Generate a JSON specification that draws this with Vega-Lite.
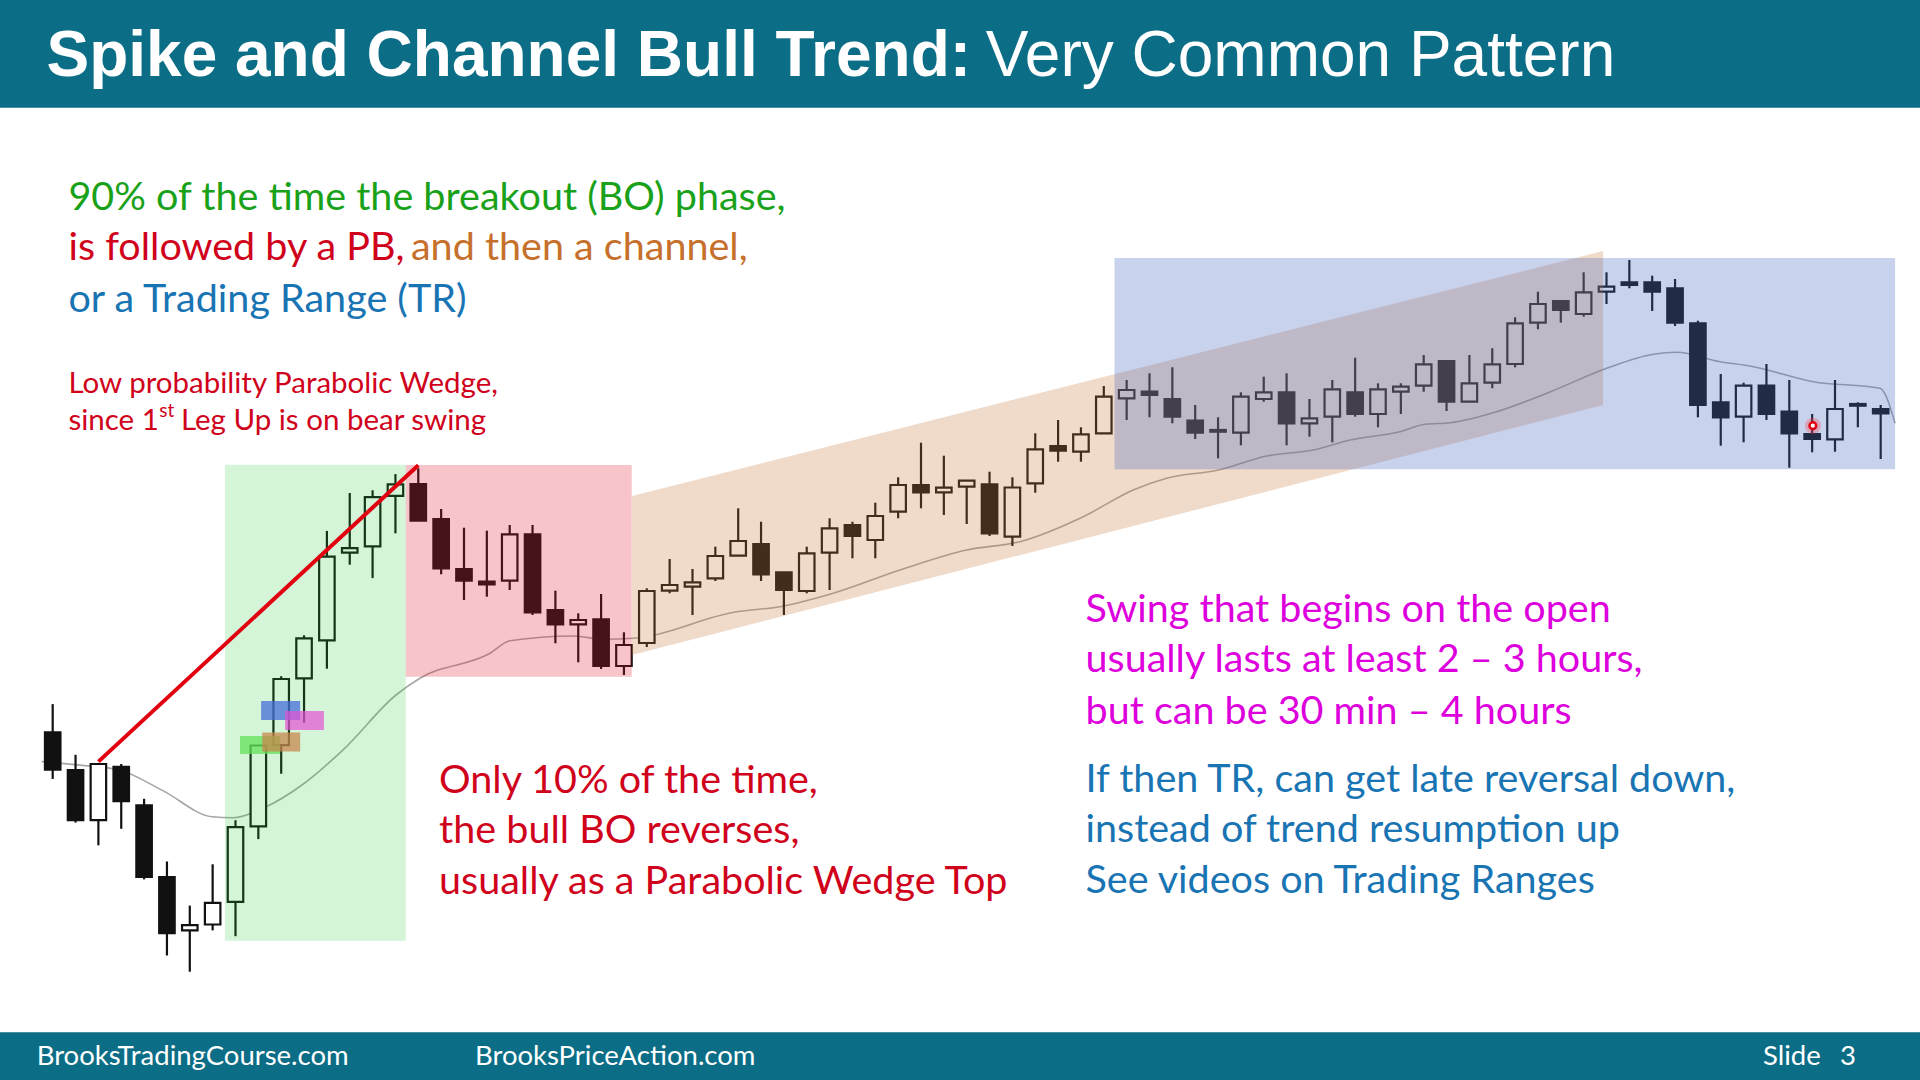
{
  "$schema": "https://vega.github.io/schema/vega-lite/v6.json",
  "width": 1920,
  "height": 1080,
  "autosize": {"type": "none"},
  "padding": 0,
  "background": "white",
  "config": {"view": {"stroke": null}, "scale": {"continuousPadding": 0}},
  "datasets": {
    "candles": [
      {"bar":0,"open":26.76,"high":29.59,"low":22.11,"close":23.04},
      {"bar":1,"open":22.98,"high":24.52,"low":17.74,"close":17.98},
      {"bar":2,"open":17.98,"high":23.7,"low":15.47,"close":23.6},
      {"bar":3,"open":23.32,"high":23.6,"low":17.12,"close":19.88},
      {"bar":4,"open":19.46,"high":20.12,"low":12.06,"close":12.3},
      {"bar":5,"open":12.3,"high":13.85,"low":4.45,"close":6.69},
      {"bar":6,"open":6.96,"high":9.44,"low":2.83,"close":7.48},
      {"bar":7,"open":7.55,"high":13.57,"low":6.96,"close":9.72},
      {"bar":8,"open":9.82,"high":17.98,"low":6.38,"close":17.29},
      {"bar":9,"open":17.36,"high":25.5,"low":16.09,"close":25.45},
      {"bar":10,"open":25.49,"high":32.38,"low":22.63,"close":32.1},
      {"bar":11,"open":32.17,"high":36.47,"low":27.73,"close":36.16},
      {"bar":12,"open":35.96,"high":46.91,"low":33.13,"close":44.33},
      {"bar":13,"open":44.74,"high":50.7,"low":43.53,"close":45.19},
      {"bar":14,"open":45.36,"high":50.97,"low":42.19,"close":50.28},
      {"bar":15,"open":50.42,"high":52.59,"low":46.67,"close":51.56},
      {"bar":16,"open":51.6,"high":53.17,"low":47.93,"close":47.93},
      {"bar":17,"open":48.1,"high":49.1,"low":42.57,"close":43.17},
      {"bar":18,"open":43.1,"high":47.23,"low":40.0,"close":41.93},
      {"bar":19,"open":41.83,"high":46.93,"low":40.33,"close":41.57},
      {"bar":20,"open":41.93,"high":47.5,"low":41.0,"close":46.57},
      {"bar":21,"open":46.57,"high":47.5,"low":38.5,"close":38.77},
      {"bar":22,"open":39.0,"high":40.93,"low":35.67,"close":37.57},
      {"bar":23,"open":37.57,"high":38.67,"low":33.77,"close":38.0},
      {"bar":24,"open":38.07,"high":40.6,"low":33.1,"close":33.4},
      {"bar":25,"open":33.4,"high":36.77,"low":32.5,"close":35.5},
      {"bar":26,"open":35.7,"high":41.17,"low":35.3,"close":40.9},
      {"bar":27,"open":40.93,"high":44.1,"low":40.67,"close":41.5},
      {"bar":28,"open":41.33,"high":43.1,"low":38.5,"close":41.77},
      {"bar":29,"open":42.17,"high":45.33,"low":41.9,"close":44.4},
      {"bar":30,"open":44.43,"high":49.17,"low":44.43,"close":45.9},
      {"bar":31,"open":45.6,"high":47.83,"low":41.9,"close":42.57},
      {"bar":32,"open":42.77,"high":42.77,"low":38.5,"close":41.0},
      {"bar":33,"open":40.9,"high":45.33,"low":40.67,"close":44.67},
      {"bar":34,"open":44.73,"high":48.17,"low":41.0,"close":47.17},
      {"bar":35,"open":47.5,"high":47.83,"low":44.17,"close":46.4},
      {"bar":36,"open":46.0,"high":49.73,"low":44.17,"close":48.4},
      {"bar":37,"open":48.83,"high":52.27,"low":48.17,"close":51.5},
      {"bar":38,"open":51.5,"high":55.73,"low":49.17,"close":50.77},
      {"bar":39,"open":50.77,"high":54.43,"low":48.5,"close":51.23},
      {"bar":40,"open":51.33,"high":51.93,"low":47.6,"close":51.93},
      {"bar":41,"open":51.57,"high":52.83,"low":46.4,"close":46.67},
      {"bar":42,"open":46.33,"high":52.27,"low":45.4,"close":51.25},
      {"bar":43,"open":51.67,"high":56.67,"low":50.73,"close":55.07},
      {"bar":44,"open":55.4,"high":58.0,"low":53.83,"close":54.93},
      {"bar":45,"open":54.83,"high":57.27,"low":53.83,"close":56.57},
      {"bar":46,"open":56.67,"high":61.4,"low":56.67,"close":60.33},
      {"bar":47,"open":60.17,"high":62.0,"low":58.0,"close":61.0},
      {"bar":48,"open":60.83,"high":62.67,"low":58.27,"close":60.5},
      {"bar":49,"open":60.1,"high":63.27,"low":57.67,"close":58.33},
      {"bar":50,"open":57.93,"high":59.5,"low":56.1,"close":56.73},
      {"bar":51,"open":57.0,"high":58.27,"low":54.17,"close":56.83},
      {"bar":52,"open":56.73,"high":60.77,"low":55.47,"close":60.33},
      {"bar":53,"open":60.1,"high":62.33,"low":59.83,"close":60.77},
      {"bar":54,"open":60.77,"high":62.67,"low":55.47,"close":57.67},
      {"bar":55,"open":57.67,"high":60.1,"low":56.33,"close":58.17},
      {"bar":56,"open":58.33,"high":62.0,"low":55.77,"close":61.07},
      {"bar":57,"open":60.77,"high":64.23,"low":58.33,"close":58.6},
      {"bar":58,"open":58.6,"high":61.67,"low":57.27,"close":61.07},
      {"bar":59,"open":60.83,"high":61.67,"low":58.6,"close":61.33},
      {"bar":60,"open":61.43,"high":64.5,"low":60.83,"close":63.57},
      {"bar":61,"open":63.9,"high":63.9,"low":58.9,"close":59.83},
      {"bar":62,"open":59.83,"high":64.5,"low":59.83,"close":61.67},
      {"bar":63,"open":61.73,"high":65.17,"low":61.17,"close":63.57},
      {"bar":64,"open":63.6,"high":68.27,"low":63.27,"close":67.67},
      {"bar":65,"open":67.73,"high":70.83,"low":67.07,"close":69.6},
      {"bar":66,"open":69.9,"high":69.9,"low":67.73,"close":69.0},
      {"bar":67,"open":68.6,"high":72.77,"low":68.33,"close":70.77},
      {"bar":68,"open":70.83,"high":72.77,"low":69.6,"close":71.33},
      {"bar":69,"open":71.77,"high":74.0,"low":71.17,"close":71.5},
      {"bar":70,"open":71.77,"high":72.43,"low":68.9,"close":70.83},
      {"bar":71,"open":71.17,"high":72.1,"low":67.4,"close":67.73},
      {"bar":72,"open":67.67,"high":67.93,"low":58.27,"close":59.5},
      {"bar":73,"open":59.77,"high":62.6,"low":55.43,"close":58.27},
      {"bar":74,"open":58.33,"high":61.73,"low":55.77,"close":61.43},
      {"bar":75,"open":61.43,"high":63.6,"low":58.0,"close":58.6},
      {"bar":76,"open":58.83,"high":62.0,"low":53.23,"close":56.67},
      {"bar":77,"open":56.6,"high":58.6,"low":54.77,"close":56.1},
      {"bar":78,"open":56.07,"high":62.0,"low":54.83,"close":59.1},
      {"bar":79,"open":59.6,"high":59.77,"low":57.27,"close":59.43},
      {"bar":80,"open":59.1,"high":59.5,"low":54.1,"close":58.67}
    ],
    "ema": [
      {"bar":-0.48,"ema":23.84},{"bar":1.19,"ema":23.49},{"bar":2.95,"ema":22.98},
      {"bar":4.84,"ema":20.91},{"bar":6.96,"ema":18.33},{"bar":7.9,"ema":18.22},
      {"bar":9.22,"ema":19.19},{"bar":10.97,"ema":21.6},{"bar":12.72,"ema":25.04},
      {"bar":15.05,"ema":30.55},{"bar":16.07,"ema":32.17},{"bar":19.14,"ema":34.67},
      {"bar":20.01,"ema":35.93},{"bar":22.78,"ema":36.4},{"bar":24.1,"ema":36.07},
      {"bar":25.41,"ema":36.17},{"bar":29.93,"ema":38.83},{"bar":31.83,"ema":39.33},
      {"bar":34.16,"ema":40.67},{"bar":37.08,"ema":43.0},{"bar":40.0,"ema":45.0},
      {"bar":42.33,"ema":45.83},{"bar":45.1,"ema":48.33},{"bar":47.29,"ema":51.0},
      {"bar":48.75,"ema":52.17},{"bar":51.01,"ema":53.0},{"bar":53.13,"ema":54.4},
      {"bar":55.17,"ema":55.0},{"bar":56.78,"ema":56.0},{"bar":58.96,"ema":56.83},
      {"bar":60.06,"ema":57.57},{"bar":61.16,"ema":57.73},{"bar":63.19,"ema":58.83},
      {"bar":65.55,"ema":60.83},{"bar":68.01,"ema":63.17},{"bar":70.05,"ema":64.57},
      {"bar":71.07,"ema":64.77},{"bar":72.97,"ema":63.83},{"bar":74.28,"ema":63.4},
      {"bar":77.05,"ema":61.83},{"bar":79.97,"ema":61.17},{"bar":80.63,"ema":57.67}
    ]
  },
  "layer": [
    {
      "data": {"values": [{"x0":-2.306,"x1":81.72,"y0":89.22,"y1":100}]},
      "mark": {"type": "rect", "fill": "#0b6d86"},
      "encoding": {
        "x": {"field":"x0","type":"quantitative","scale":{"domain":[-2.306,81.72],"nice":false,"zero":false,"padding":0},"axis":null},
        "x2": {"field":"x1"},
        "y": {"field":"y0","type":"quantitative","scale":{"domain":[-8,100],"nice":false,"zero":false},"axis":null},
        "y2": {"field":"y1"}
      }
    },
    {
      "data": {"values": [{"x0":-2.306,"x1":81.72,"y0":-8,"y1":-3.23}]},
      "mark": {"type": "rect", "fill": "#0b6d86"},
      "encoding": {
        "x": {"field":"x0","type":"quantitative","scale":{"domain":[-2.306,81.72],"nice":false,"zero":false,"padding":0},"axis":null},
        "x2": {"field":"x1"},
        "y": {"field":"y0","type":"quantitative","scale":{"domain":[-8,100],"nice":false,"zero":false},"axis":null},
        "y2": {"field":"y1"}
      }
    },
    {
      "data": {"name": "ema"},
      "mark": {"type": "line", "color": "#a6a6a6", "strokeWidth": 1.6, "interpolate": "monotone"},
      "encoding": {
        "x": {"field":"bar","type":"quantitative","scale":{"domain":[-2.306,81.72],"nice":false,"zero":false,"padding":0},"axis":null},
        "y": {"field":"ema","type":"quantitative","scale":{"domain":[-8,100],"nice":false,"zero":false},"axis":null}
      }
    },
    {
      "data": {"name": "candles"},
      "mark": {"type": "rule", "color": "#111111", "strokeWidth": 2.2},
      "encoding": {
        "x": {"field":"bar","type":"quantitative","scale":{"domain":[-2.306,81.72],"nice":false,"zero":false,"padding":0},"axis":null},
        "y": {"field":"low","type":"quantitative","scale":{"domain":[-8,100],"nice":false,"zero":false},"axis":null},
        "y2": {"field":"high"}
      }
    },
    {
      "data": {"name": "candles"},
      "mark": {"type": "bar", "width": 15.5, "stroke": "#111111", "strokeWidth": 2.2},
      "encoding": {
        "x": {"field":"bar","type":"quantitative","scale":{"domain":[-2.306,81.72],"nice":false,"zero":false,"padding":0},"axis":null},
        "y": {"field":"open","type":"quantitative","scale":{"domain":[-8,100],"nice":false,"zero":false},"axis":null},
        "y2": {"field":"close"},
        "fill": {"condition": {"test": "datum.close > datum.open", "value": "#ffffff"}, "value": "#111111"}
      }
    },
    {
      "data": {"values": [{"x0":7.54,"x1":15.45,"y0":5.93,"y1":53.52}]},
      "mark": {"type": "rect", "fill": "#2ecc40", "opacity": 0.2},
      "encoding": {
        "x": {"field":"x0","type":"quantitative","scale":{"domain":[-2.306,81.72],"nice":false,"zero":false,"padding":0},"axis":null},
        "x2": {"field":"x1"},
        "y": {"field":"y0","type":"quantitative","scale":{"domain":[-8,100],"nice":false,"zero":false},"axis":null},
        "y2": {"field":"y1"}
      }
    },
    {
      "data": {"values": [{"x0":15.45,"x1":25.34,"y0":32.33,"y1":53.5}]},
      "mark": {"type": "rect", "fill": "#e02030", "opacity": 0.26},
      "encoding": {
        "x": {"field":"x0","type":"quantitative","scale":{"domain":[-2.306,81.72],"nice":false,"zero":false,"padding":0},"axis":null},
        "x2": {"field":"x1"},
        "y": {"field":"y0","type":"quantitative","scale":{"domain":[-8,100],"nice":false,"zero":false},"axis":null},
        "y2": {"field":"y1"}
      }
    },
    {
      "data": {"values": [{"bar":25.35,"top":50.4,"bottom":34.5},{"bar":67.85,"top":74.9,"bottom":59.5}]},
      "mark": {"type": "area", "fill": "#c8783c", "opacity": 0.27},
      "encoding": {
        "x": {"field":"bar","type":"quantitative","scale":{"domain":[-2.306,81.72],"nice":false,"zero":false,"padding":0},"axis":null},
        "y": {"field":"top","type":"quantitative","scale":{"domain":[-8,100],"nice":false,"zero":false},"axis":null},
        "y2": {"field":"bottom"}
      }
    },
    {
      "data": {"values": [{"x0":46.47,"x1":80.63,"y0":53.07,"y1":74.2}]},
      "mark": {"type": "rect", "fill": "#4b6bc0", "opacity": 0.3},
      "encoding": {
        "x": {"field":"x0","type":"quantitative","scale":{"domain":[-2.306,81.72],"nice":false,"zero":false,"padding":0},"axis":null},
        "x2": {"field":"x1"},
        "y": {"field":"y0","type":"quantitative","scale":{"domain":[-8,100],"nice":false,"zero":false},"axis":null},
        "y2": {"field":"y1"}
      }
    },
    {
      "data": {"values": [{"x0":8.2,"x1":9.95,"y0":24.6,"y1":26.4}]},
      "mark": {"type": "rect", "fill": "#61e157", "opacity": 0.75},
      "encoding": {
        "x": {"field":"x0","type":"quantitative","scale":{"domain":[-2.306,81.72],"nice":false,"zero":false,"padding":0},"axis":null},
        "x2": {"field":"x1"},
        "y": {"field":"y0","type":"quantitative","scale":{"domain":[-8,100],"nice":false,"zero":false},"axis":null},
        "y2": {"field":"y1"}
      }
    },
    {
      "data": {"values": [{"x0":9.17,"x1":10.83,"y0":24.85,"y1":26.75}]},
      "mark": {"type": "rect", "fill": "#c5874c", "opacity": 0.75},
      "encoding": {
        "x": {"field":"x0","type":"quantitative","scale":{"domain":[-2.306,81.72],"nice":false,"zero":false,"padding":0},"axis":null},
        "x2": {"field":"x1"},
        "y": {"field":"y0","type":"quantitative","scale":{"domain":[-8,100],"nice":false,"zero":false},"axis":null},
        "y2": {"field":"y1"}
      }
    },
    {
      "data": {"values": [{"x0":9.12,"x1":10.83,"y0":28.0,"y1":29.9}]},
      "mark": {"type": "rect", "fill": "#476dd9", "opacity": 0.75},
      "encoding": {
        "x": {"field":"x0","type":"quantitative","scale":{"domain":[-2.306,81.72],"nice":false,"zero":false,"padding":0},"axis":null},
        "x2": {"field":"x1"},
        "y": {"field":"y0","type":"quantitative","scale":{"domain":[-8,100],"nice":false,"zero":false},"axis":null},
        "y2": {"field":"y1"}
      }
    },
    {
      "data": {"values": [{"x0":10.17,"x1":11.87,"y0":27.0,"y1":28.9}]},
      "mark": {"type": "rect", "fill": "#e451d4", "opacity": 0.7},
      "encoding": {
        "x": {"field":"x0","type":"quantitative","scale":{"domain":[-2.306,81.72],"nice":false,"zero":false,"padding":0},"axis":null},
        "x2": {"field":"x1"},
        "y": {"field":"y0","type":"quantitative","scale":{"domain":[-8,100],"nice":false,"zero":false},"axis":null},
        "y2": {"field":"y1"}
      }
    },
    {
      "data": {"values": [{"bar":2.0,"price":23.84},{"bar":16.0,"price":53.47}]},
      "mark": {"type": "line", "color": "#e00010", "strokeWidth": 4},
      "encoding": {
        "x": {"field":"bar","type":"quantitative","scale":{"domain":[-2.306,81.72],"nice":false,"zero":false,"padding":0},"axis":null},
        "y": {"field":"price","type":"quantitative","scale":{"domain":[-8,100],"nice":false,"zero":false},"axis":null}
      }
    },
    {
      "data": {"values": [{"bar":77.03,"price":57.43}]},
      "mark": {"type": "point", "shape": "circle", "filled": true, "color": "#ff4050", "opacity": 0.3, "size": 260},
      "encoding": {
        "x": {"field":"bar","type":"quantitative","scale":{"domain":[-2.306,81.72],"nice":false,"zero":false,"padding":0},"axis":null},
        "y": {"field":"price","type":"quantitative","scale":{"domain":[-8,100],"nice":false,"zero":false},"axis":null}
      }
    },
    {
      "data": {"values": [{"bar":77.03,"price":57.43}]},
      "mark": {"type": "point", "shape": "circle", "filled": false, "stroke": "#e00010", "fill": "#ffffff", "fillOpacity": 1, "strokeWidth": 2.5, "size": 45},
      "encoding": {
        "x": {"field":"bar","type":"quantitative","scale":{"domain":[-2.306,81.72],"nice":false,"zero":false,"padding":0},"axis":null},
        "y": {"field":"price","type":"quantitative","scale":{"domain":[-8,100],"nice":false,"zero":false},"axis":null}
      }
    },
    {
      "data": {"values": [{"bar":-0.271,"price":92.45,"label":"Spike and Channel Bull Trend:"}]},
      "mark": {"type": "text", "align": "left", "baseline": "alphabetic", "font": "Liberation Sans", "fontWeight": "bold", "fontSize": 64, "color": "#ffffff"},
      "encoding": {
        "x": {"field":"bar","type":"quantitative","scale":{"domain":[-2.306,81.72],"nice":false,"zero":false,"padding":0},"axis":null},
        "y": {"field":"price","type":"quantitative","scale":{"domain":[-8,100],"nice":false,"zero":false},"axis":null},
        "text": {"field":"label"}
      }
    },
    {
      "data": {"values": [{"bar":40.83,"price":92.45,"label":"Very Common Pattern"}]},
      "mark": {"type": "text", "align": "left", "baseline": "alphabetic", "font": "Liberation Sans", "fontSize": 64, "color": "#ffffff"},
      "encoding": {
        "x": {"field":"bar","type":"quantitative","scale":{"domain":[-2.306,81.72],"nice":false,"zero":false,"padding":0},"axis":null},
        "y": {"field":"price","type":"quantitative","scale":{"domain":[-8,100],"nice":false,"zero":false},"axis":null},
        "text": {"field":"label"}
      }
    },
    {
      "data": {"values": [{"bar":0.69,"price":79.0,"label":"90% of the time the breakout (BO) phase,"}]},
      "mark": {"type": "text", "align": "left", "baseline": "alphabetic", "font": "Lato", "fontSize": 39.5, "color": "#19a219"},
      "encoding": {
        "x": {"field":"bar","type":"quantitative","scale":{"domain":[-2.306,81.72],"nice":false,"zero":false,"padding":0},"axis":null},
        "y": {"field":"price","type":"quantitative","scale":{"domain":[-8,100],"nice":false,"zero":false},"axis":null},
        "text": {"field":"label"}
      }
    },
    {
      "data": {"values": [
        {"bar":0.69,"price":74.0,"label":"is followed by a PB,"},
        {"bar":16.91,"price":20.67,"label":"Only 10% of the time,"},
        {"bar":16.91,"price":15.67,"label":"the bull BO reverses,"},
        {"bar":16.91,"price":10.6,"label":"usually as a Parabolic Wedge Top"}
      ]},
      "mark": {"type": "text", "align": "left", "baseline": "alphabetic", "font": "Lato", "fontSize": 39.5, "color": "#d0021b"},
      "encoding": {
        "x": {"field":"bar","type":"quantitative","scale":{"domain":[-2.306,81.72],"nice":false,"zero":false,"padding":0},"axis":null},
        "y": {"field":"price","type":"quantitative","scale":{"domain":[-8,100],"nice":false,"zero":false},"axis":null},
        "text": {"field":"label"}
      }
    },
    {
      "data": {"values": [{"bar":15.68,"price":74.0,"label":"and then a channel,"}]},
      "mark": {"type": "text", "align": "left", "baseline": "alphabetic", "font": "Lato", "fontSize": 39.5, "color": "#c6702c"},
      "encoding": {
        "x": {"field":"bar","type":"quantitative","scale":{"domain":[-2.306,81.72],"nice":false,"zero":false,"padding":0},"axis":null},
        "y": {"field":"price","type":"quantitative","scale":{"domain":[-8,100],"nice":false,"zero":false},"axis":null},
        "text": {"field":"label"}
      }
    },
    {
      "data": {"values": [
        {"bar":0.69,"price":68.83,"label":"or a Trading Range (TR)"},
        {"bar":45.2,"price":20.83,"label":"If then TR, can get late reversal down,"},
        {"bar":45.2,"price":15.83,"label":"instead of trend resumption up"},
        {"bar":45.2,"price":10.67,"label":"See videos on Trading Ranges"}
      ]},
      "mark": {"type": "text", "align": "left", "baseline": "alphabetic", "font": "Lato", "fontSize": 39.5, "color": "#1874b3"},
      "encoding": {
        "x": {"field":"bar","type":"quantitative","scale":{"domain":[-2.306,81.72],"nice":false,"zero":false,"padding":0},"axis":null},
        "y": {"field":"price","type":"quantitative","scale":{"domain":[-8,100],"nice":false,"zero":false},"axis":null},
        "text": {"field":"label"}
      }
    },
    {
      "data": {"values": [
        {"bar":45.2,"price":37.83,"label":"Swing that begins on the open"},
        {"bar":45.2,"price":32.83,"label":"usually lasts at least 2 – 3 hours,"},
        {"bar":45.2,"price":27.6,"label":"but can be 30 min – 4 hours"}
      ]},
      "mark": {"type": "text", "align": "left", "baseline": "alphabetic", "font": "Lato", "fontSize": 39.5, "color": "#dd00dd"},
      "encoding": {
        "x": {"field":"bar","type":"quantitative","scale":{"domain":[-2.306,81.72],"nice":false,"zero":false,"padding":0},"axis":null},
        "y": {"field":"price","type":"quantitative","scale":{"domain":[-8,100],"nice":false,"zero":false},"axis":null},
        "text": {"field":"label"}
      }
    },
    {
      "data": {"values": [
        {"bar":0.69,"price":60.67,"label":"Low probability Parabolic Wedge,"},
        {"bar":0.69,"price":57.0,"label":"since 1"},
        {"bar":5.61,"price":57.0,"label":"Leg Up is on bear swing"}
      ]},
      "mark": {"type": "text", "align": "left", "baseline": "alphabetic", "font": "Lato", "fontSize": 29.5, "color": "#d0021b"},
      "encoding": {
        "x": {"field":"bar","type":"quantitative","scale":{"domain":[-2.306,81.72],"nice":false,"zero":false,"padding":0},"axis":null},
        "y": {"field":"price","type":"quantitative","scale":{"domain":[-8,100],"nice":false,"zero":false},"axis":null},
        "text": {"field":"label"}
      }
    },
    {
      "data": {"values": [{"bar":4.66,"price":58.3,"label":"st"}]},
      "mark": {"type": "text", "align": "left", "baseline": "alphabetic", "font": "Lato", "fontSize": 19, "color": "#d0021b"},
      "encoding": {
        "x": {"field":"bar","type":"quantitative","scale":{"domain":[-2.306,81.72],"nice":false,"zero":false,"padding":0},"axis":null},
        "y": {"field":"price","type":"quantitative","scale":{"domain":[-8,100],"nice":false,"zero":false},"axis":null},
        "text": {"field":"label"}
      }
    },
    {
      "data": {"values": [
        {"bar":-0.7,"price":-5.7,"label":"BrooksTradingCourse.com"},
        {"bar":18.48,"price":-5.7,"label":"BrooksPriceAction.com"},
        {"bar":74.85,"price":-5.7,"label":"Slide"},
        {"bar":78.22,"price":-5.7,"label":"3"}
      ]},
      "mark": {"type": "text", "align": "left", "baseline": "middle", "font": "Lato", "fontSize": 27.5, "color": "#ffffff"},
      "encoding": {
        "x": {"field":"bar","type":"quantitative","scale":{"domain":[-2.306,81.72],"nice":false,"zero":false,"padding":0},"axis":null},
        "y": {"field":"price","type":"quantitative","scale":{"domain":[-8,100],"nice":false,"zero":false},"axis":null},
        "text": {"field":"label"}
      }
    }
  ]
}
